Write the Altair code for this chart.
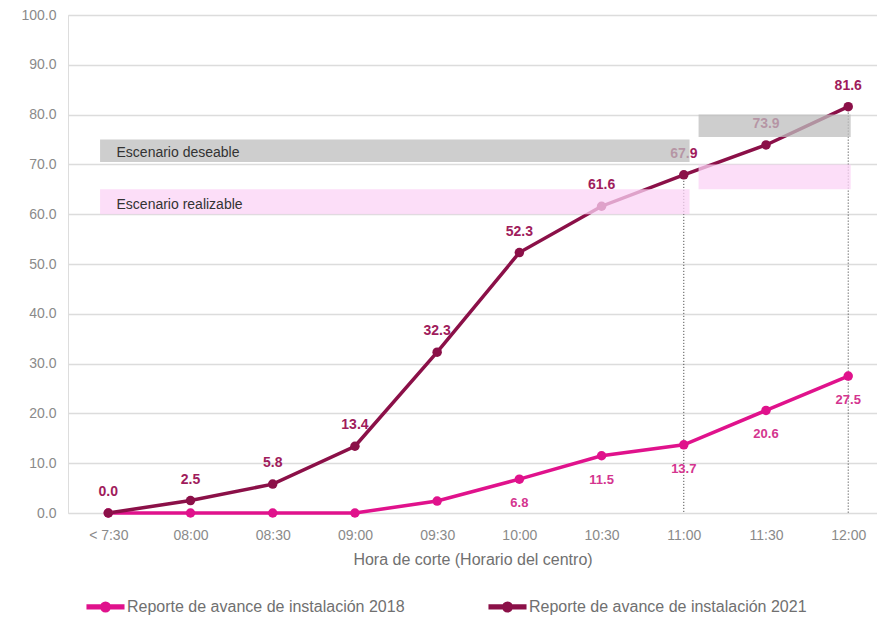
import json
import altair as alt
import pandas as pd

hours = ["< 7:30", "08:00", "08:30", "09:00", "09:30", "10:00", "10:30", "11:00", "11:30", "12:00"]
s2018 = [0.0, 0.0, 0.0, 0.0, 2.4, 6.8, 11.5, 13.7, 20.6, 27.5]
s2021 = [0.0, 2.5, 5.8, 13.4, 32.3, 52.3, 61.6, 67.9, 73.9, 81.6]
name2018 = "Reporte de avance de instalación 2018"
name2021 = "Reporte de avance de instalación 2021"
labelled2018 = [5, 6, 7, 8, 9]
rule_idx = [7, 9]

band_kind = ["deseable", "realizable", "deseable", "realizable"]
band_x0 = [-0.1, -0.1, 7.18, 7.18]
band_x1 = [7.07, 7.07, 9.03, 9.03]
band_y0 = [70.5, 60.0, 75.5, 65.0]
band_y1 = [75.0, 65.0, 80.0, 70.0]
band_text = ["Escenario deseable", "Escenario realizable"]
band_text_y = [72.3, 61.8]

FONT = "Liberation Sans"
C18 = "#e0128c"
C21 = "#8b1048"

rows = []
for i, h in enumerate(hours):
    rows.append({"i": i, "hora": h, "serie": name2018, "v": s2018[i]})
for i, h in enumerate(hours):
    rows.append({"i": i, "hora": h, "serie": name2021, "v": s2021[i]})
df = pd.DataFrame(rows)

lab18 = pd.DataFrame({"i": labelled2018, "v": [s2018[i] for i in labelled2018]})
lab21 = pd.DataFrame({"i": list(range(len(hours))), "v": s2021})
rules = pd.DataFrame({"i": rule_idx, "v": [s2021[i] for i in rule_idx], "z": [0.0] * len(rule_idx)})
bands = pd.DataFrame({"kind": band_kind, "x0": band_x0, "x1": band_x1, "y0": band_y0, "y1": band_y1})
btext = pd.DataFrame({"t": band_text, "y": band_text_y, "x": [band_x0[0] + 0.2] * 2})

xscale = alt.Scale(domain=[-0.49, 9.35], nice=False, zero=False)
yscale = alt.Scale(domain=[0, 100], nice=False)

label_expr = json.dumps(hours) + "[datum.value]"

x_enc = alt.X(
    "i:Q", scale=xscale,
    axis=alt.Axis(values=list(range(len(hours))), labelExpr=label_expr, grid=False,
                  domain=False, ticks=False, labelPadding=15, labelColor="#8a8a8a",
                  labelFontSize=14, labelFont=FONT,
                  title="Hora de corte (Horario del centro)", titleColor="#707070",
                  titleFontSize=16, titleFont=FONT, titleFontWeight="normal", titlePadding=9),
)
y_enc = alt.Y(
    "v:Q", scale=yscale,
    axis=alt.Axis(values=list(range(0, 101, 10)), format=".1f", grid=True, gridColor="#dcdcdc",
                  gridWidth=1.5, domain=False, ticks=False, labelPadding=12,
                  labelColor="#8a8a8a", labelFontSize=14, labelFont=FONT, title=None),
)

legend_path = "M-1,-0.09L1,-0.09L1,0.09L-1,0.09Z M-0.25,0A0.25,0.25,0,1,1,0.25,0A0.25,0.25,0,1,1,-0.25,0Z"
color = alt.Color(
    "serie:N",
    scale=alt.Scale(domain=[name2018, name2021], range=[C18, C21]),
    legend=alt.Legend(title=None, orient="none", legendX=18, legendY=572, direction="horizontal",
                      symbolType=legend_path, symbolSize=1300, symbolStrokeWidth=2,
                      labelFont=FONT, labelFontSize=16, labelColor="#707070",
                      columnPadding=80, labelOffset=2, labelLimit=400),
)

base = alt.Chart(df)
lines = base.mark_line(strokeWidth=3.5).encode(x=x_enc, y=y_enc, color=color)
points = base.mark_circle(size=90, opacity=1).encode(x="i:Q", y="v:Q", color=color)

rule_layer = alt.Chart(rules).mark_rule(color="#333333", strokeWidth=1, strokeDash=[1, 2]).encode(
    x="i:Q", y="v:Q", y2="z:Q")

t21 = alt.Chart(lab21).mark_text(dy=-21, fontSize=14, fontWeight="bold", font=FONT, color="#a01c5c").encode(
    x="i:Q", y="v:Q", text=alt.Text("v:Q", format=".1f"))
t18 = alt.Chart(lab18).mark_text(dy=24, fontSize=13, fontWeight="bold", font=FONT, color="#d4358f").encode(
    x="i:Q", y="v:Q", text=alt.Text("v:Q", format=".1f"))

band_layer = alt.Chart(bands).mark_rect(opacity=0.75).encode(
    x="x0:Q", x2="x1:Q", y="y0:Q", y2="y1:Q",
    fill=alt.Fill("kind:N", scale=alt.Scale(domain=["deseable", "realizable"], range=["#bdbdbd", "#fbd3f5"]), legend=None),
)

band_labels = alt.Chart(btext).mark_text(align="left", baseline="middle", fontSize=14, font=FONT, color="#333333").encode(
    x="x:Q", y="y:Q", text="t:N")

chart = alt.layer(rule_layer, lines, points, t21, t18, band_layer, band_labels).properties(
    width=809, height=498,
    autosize=alt.AutoSizeParams(type="none"),
    padding={"left": 60, "top": 7, "right": 0, "bottom": 107},
).configure_view(stroke=None).configure(background="white")

chart.save("out.html", embed_options={"renderer": "svg", "actions": False})
